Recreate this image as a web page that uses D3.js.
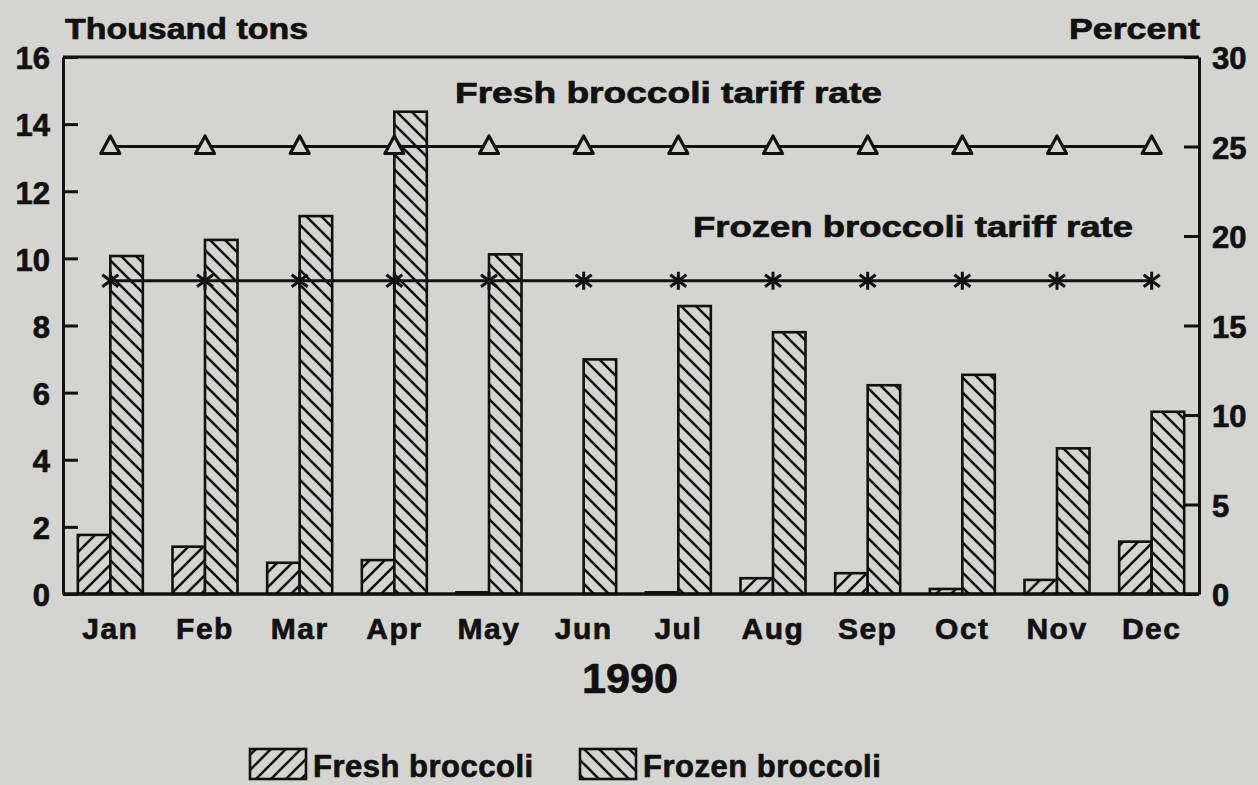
<!DOCTYPE html>
<html>
<head>
<meta charset="utf-8">
<script src="https://cdn.jsdelivr.net/npm/d3@7"></script>
<style>
  html, body { margin: 0; padding: 0; background: #d4d5d0; }
  svg { display: block; }
  text { font-family: "Liberation Sans", Arial, Helvetica, sans-serif; font-weight: bold; fill: #111; stroke: #111; stroke-width: 0.7px; }
</style>
</head>
<body>
<svg id="chart" width="1258" height="785"></svg>
<script>
// ---- data ----
const months = ["Jan","Feb","Mar","Apr","May","Jun","Jul","Aug","Sep","Oct","Nov","Dec"];
const freshTons = [1.76, 1.41, 0.93, 1.01, 0.05, 0.0, 0.05, 0.47, 0.62, 0.15, 0.42, 1.56];
const frozenTons = [10.07, 10.55, 11.26, 14.37, 10.12, 6.99, 8.58, 7.8, 6.22, 6.53, 4.34, 5.43];
const freshTariff = [25, 25, 25, 25, 25, 25, 25, 25, 25, 25, 25, 25];
const frozenTariff = [17.5, 17.5, 17.5, 17.5, 17.5, 17.5, 17.5, 17.5, 17.5, 17.5, 17.5, 17.5];
const leftTicks = [0, 2, 4, 6, 8, 10, 12, 14, 16];
const rightTicks = [0, 5, 10, 15, 20, 25, 30];
const seriesNames = ["Fresh broccoli", "Frozen broccoli"];

const svg = d3.select("#chart");
const bg = "#d4d5d0";
const plot = { left: 63, right: 1199, top: 57, bottom: 594 };

// patterns
const defs = svg.append("defs");
function hatch(id, d) {
  const p = defs.append("pattern").attr("id", id).attr("patternUnits", "userSpaceOnUse")
    .attr("width", 15).attr("height", 15);
  p.append("rect").attr("width", 15).attr("height", 15).attr("fill", bg);
  p.append("path").attr("d", d).attr("stroke", "#111").attr("stroke-width", 2.6).attr("fill", "none");
}
hatch("fresh", "M-4,4 L4,-4 M0,15 L15,0 M11,19 L19,11");
hatch("frozen", "M-4,11 L4,19 M0,0 L15,15 M11,-4 L19,4");

// scales
const x = d3.scaleBand().domain(months).range([plot.left, plot.right]).padding(0);
const barW = 32.5;
const xs = d3.scaleBand().domain(["fresh", "frozen"]).range([-barW, barW]).padding(0);
const yL = d3.scaleLinear().domain([0, 16]).range([plot.bottom, plot.top]);
const yR = d3.scaleLinear().domain([0, 30]).range([plot.bottom, plot.top]);

// bars
const bars = svg.append("g");
const rows = months.map((m, i) => ({ m, fresh: freshTons[i], frozen: frozenTons[i] }));
["fresh", "frozen"].forEach(key => {
  bars.selectAll("rect." + key).data(rows.filter(d => d[key] > 0)).join("rect")
    .attr("class", key)
    .attr("x", d => x(d.m) + x.bandwidth() / 2 + xs(key))
    .attr("width", xs.bandwidth())
    .attr("y", d => yL(d[key]))
    .attr("height", d => yL(0) - yL(d[key]))
    .attr("fill", "url(#" + key + ")")
    .attr("stroke", "#111").attr("stroke-width", 2.6);
});

// tariff lines
const cx = m => x(m) + x.bandwidth() / 2;
const line = d3.line().x(d => cx(d.m)).y(d => yR(d.v));
const freshPts = months.map((m, i) => ({ m, v: freshTariff[i] }));
const frozenPts = months.map((m, i) => ({ m, v: frozenTariff[i] }));
svg.append("path").attr("d", line(freshPts)).attr("fill", "none").attr("stroke", "#111").attr("stroke-width", 3);
svg.append("path").attr("d", line(frozenPts)).attr("fill", "none").attr("stroke", "#111").attr("stroke-width", 3);

// triangles
svg.append("g").selectAll("path").data(freshPts).join("path")
  .attr("transform", d => `translate(${cx(d.m)},${yR(d.v)})`)
  .attr("d", "M-9.5,7 L0,-10.5 L9.5,7 Z")
  .attr("fill", bg).attr("stroke", "#111").attr("stroke-width", 3.2).attr("stroke-linejoin", "round");
// asterisks
svg.append("g").selectAll("path").data(frozenPts).join("path")
  .attr("transform", d => `translate(${cx(d.m)},${yR(d.v)})`)
  .attr("d", "M0,-9 L0,9 M-8,-6 L8,6 M-8,6 L8,-6")
  .attr("fill", "none").attr("stroke", "#111").attr("stroke-width", 3);

// axes
const axL = d3.axisLeft(yL).tickValues(leftTicks).tickFormat(d3.format("d")).tickSizeInner(-15).tickSizeOuter(0).tickPadding(13);
const axR = d3.axisRight(yR).tickValues(rightTicks).tickFormat(d3.format("d")).tickSizeInner(-15).tickSizeOuter(0).tickPadding(13);
const gL = svg.append("g").attr("transform", `translate(${plot.left},0)`).call(axL);
const gR = svg.append("g").attr("transform", `translate(${plot.right},0)`).call(axR);
[gL, gR].forEach(g => {
  g.attr("font-family", null).attr("font-size", null);
  g.selectAll("path.domain").attr("stroke", "#111").attr("stroke-width", 3);
  g.selectAll(".tick line").attr("stroke", "#111").attr("stroke-width", 3);
  g.selectAll(".tick text").attr("font-size", 31).attr("fill", "#111").attr("dy", "0.38em");
});
// top and bottom borders
svg.append("line").attr("x1", plot.left).attr("x2", plot.right).attr("y1", plot.top).attr("y2", plot.top)
  .attr("stroke", "#111").attr("stroke-width", 3);
svg.append("line").attr("x1", plot.left).attr("x2", plot.right).attr("y1", plot.bottom).attr("y2", plot.bottom)
  .attr("stroke", "#111").attr("stroke-width", 3.5);

// month labels
const xAx = d3.axisBottom(x).tickSize(0).tickPadding(0);
const gX = svg.append("g").attr("transform", `translate(0,${plot.bottom})`).call(xAx);
gX.attr("font-family", null).attr("font-size", null);
gX.select("path.domain").remove();
gX.selectAll(".tick text").attr("font-size", 30).attr("y", 45).attr("dy", 0)
  .attr("letter-spacing", 1.5).attr("fill", "#111");

// titles
function label(t, x0, y0, size, anchor, len) {
  const el = svg.append("text").attr("x", x0).attr("y", y0).attr("font-size", size)
    .attr("text-anchor", anchor).text(t);
  if (len) el.attr("textLength", len).attr("lengthAdjust", "spacingAndGlyphs");
  return el;
}
label("Thousand tons", 65, 39, 30, "start", 243);
label("Percent", 1200, 39, 30, "end", 131);
label("Fresh broccoli tariff rate", 455, 103, 29, "start", 427);
label("Frozen broccoli tariff rate", 693, 237, 29, "start", 440);
label("1990", 630, 693, 42, "middle", 96);

// legend
const legend = svg.append("g");
const legendItems = [
  { key: "fresh", name: seriesNames[0], sx: 250, tx: 313 },
  { key: "frozen", name: seriesNames[1], sx: 580, tx: 643 }
];
legendItems.forEach(d => {
  legend.append("rect").attr("x", d.sx).attr("y", 749).attr("width", 56).attr("height", 30)
    .attr("fill", "url(#" + d.key + ")").attr("stroke", "#111").attr("stroke-width", 2.6);
  legend.append("text").attr("x", d.tx).attr("y", 777).attr("font-size", 31)
    .attr("letter-spacing", 0.5).text(d.name);
});
</script>
</body>
</html>
